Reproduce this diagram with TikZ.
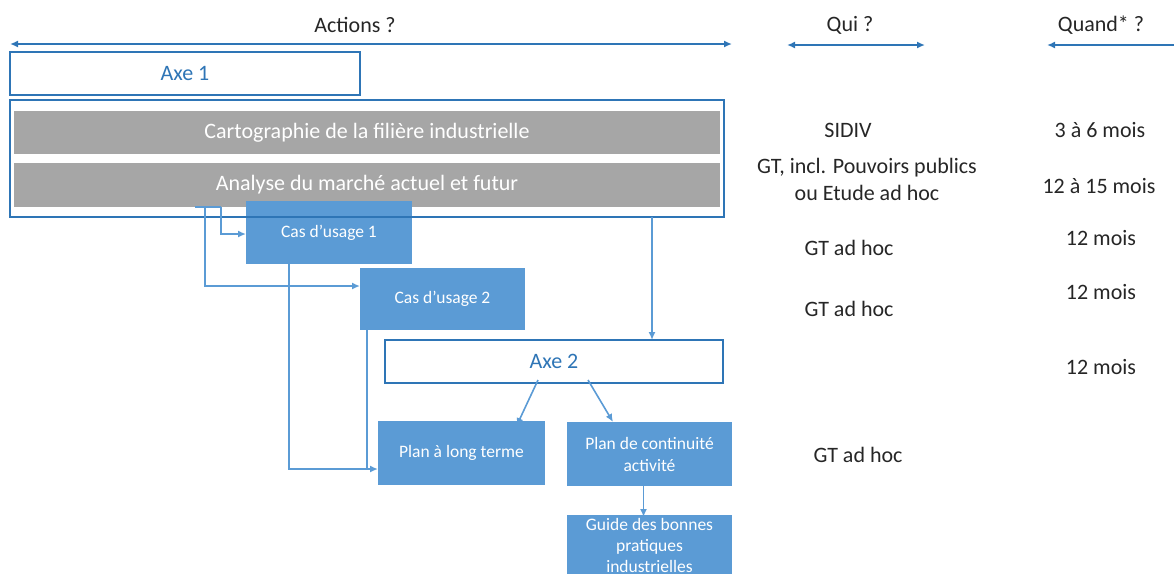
\documentclass[tikz,border=0pt]{standalone}
\usepackage{fontspec}
\setmainfont{Carlito}
\usetikzlibrary{arrows.meta,calc}
\definecolor{bfill}{HTML}{5B9BD5}
\definecolor{bline}{HTML}{2E75B6}
\definecolor{gbar}{HTML}{A6A6A6}
\definecolor{txt}{HTML}{262626}
\tikzset{
  x=1pt,y=-1pt,
  every node/.style={inner sep=0pt,outer sep=0pt},
  axebox/.style={draw=bline,line width=2pt,fill=white,text=bline,font=\fontsize{22}{26}\selectfont},
  outerbox/.style={draw=bline,line width=2.5pt},
  graybar/.style={fill=gbar,text=white,font=\fontsize{22}{26}\selectfont},
  bluebox/.style={fill=bfill,text=white,font=\fontsize{17.5}{22}\selectfont,align=center},
  lbl/.style={text=txt,font=\fontsize{22}{26}\selectfont,align=center},
  conn/.style={draw=bfill,line width=1.6pt},
  connarr/.style={conn,-{Latex[length=8pt,width=7pt]}},
  dbl/.style={draw=bline,line width=1.8pt,{Latex[length=8pt,width=7pt]}-{Latex[length=8pt,width=7pt]}}
}
\begin{document}
\begin{tikzpicture}
\useasboundingbox (0,0) rectangle (1174,573);
% headers
\node[lbl] (hact) at (355,25) {Actions ?};
\node[lbl] (hqui) at (850,25) {Qui ?};
\node[lbl] (hqua) at (1101,25) {Quand* ?};
\coordinate (aL) at (10,44); \coordinate (aR) at (732,44);
\coordinate (qL) at (787,45); \coordinate (qR) at (925,45);
\coordinate (dL) at (1047,45); \coordinate (dR) at (1190,45);
\draw[dbl] (aL) -- (aR);
\draw[dbl] (qL) -- (qR);
\draw[dbl] (dL) -- (dR);
% boxes
\node[axebox,minimum width=350pt,minimum height=43pt] (axe1) at (185,73.5) {Axe 1};
\node[graybar,minimum width=706pt,minimum height=43pt] (carto) at (367,132.5) {Cartographie de la filière industrielle};
\node[graybar,minimum width=706pt,minimum height=44pt] (analyse) at (367,185) {Analyse du marché actuel et futur};
\node[bluebox,minimum width=166pt,minimum height=63pt] (cas1) at (329,232.5) {Cas d’usage 1};
\node[outerbox,minimum width=714pt,minimum height=117pt] (outer) at (367,158.5) {};
\node[bluebox,minimum width=165pt,minimum height=62pt] (cas2) at (442.5,299) {Cas d’usage 2};
\node[axebox,minimum width=338pt,minimum height=43pt] (axe2) at (554,361.5) {Axe 2};
\node[bluebox,minimum width=167pt,minimum height=64pt] (plt) at (461.5,453) {Plan à long terme};
\node[bluebox,minimum width=165pt,minimum height=64pt] (pca) at (649.5,454) {Plan de continuité\\activité};
\node[bluebox,minimum width=165pt,minimum height=85pt,anchor=north] (guide) at (649.5,515) {};
\node[bluebox,anchor=north,font=\fontsize{17.5}{21}\selectfont] (guidetxt) at (649.5,518) {Guide des bonnes\\pratiques\\industrielles};
% connectors
\coordinate (c0) at (195,207);
\coordinate (c1) at (221,207);
\coordinate (c2) at (205,207);
\coordinate (c5) at (652,0);
\draw[conn] (c0) -- (c1);
\draw[connarr] (c1) |- ([yshift=-1.5pt]cas1.west);
\draw[connarr] (c2) |- ([yshift=13pt]cas2.west);
\draw[connarr] ([xshift=-40pt]cas1.south) |- ([yshift=-16pt]plt.west);
\draw[conn] ([xshift=-75.5pt]cas2.south) |- ([xshift=-10pt,yshift=-16pt]plt.west);
\draw[connarr] (outer.south -| c5) -- (axe2.north -| c5);
\draw[connarr] ([xshift=-16pt,yshift=3pt]axe2.south) -- ([xshift=55pt,yshift=-5pt]plt.north);
\draw[connarr] ([xshift=34pt,yshift=3pt]axe2.south) -- ([xshift=-36.5pt,yshift=0pt]pca.north);
\draw[connarr] ([xshift=-6pt,yshift=6pt]pca.south) -- ([xshift=-6pt,yshift=-2pt]guide.north);
% right column
\node[lbl] (q1) at (848,130) {SIDIV};
\node[lbl,font=\fontsize{22}{27}\selectfont] (q2) at (867,179.5) {GT, incl. Pouvoirs publics\\ou Etude ad hoc};
\node[lbl] (q3) at (849,248) {GT ad hoc};
\node[lbl] (q4) at (849,309) {GT ad hoc};
\node[lbl] (q5) at (858,455) {GT ad hoc};
\node[lbl] (d1) at (1100,130) {3 à 6 mois};
\node[lbl] (d2) at (1099,186) {12 à 15 mois};
\node[lbl] (d3) at (1101,238) {12 mois};
\node[lbl] (d4) at (1101,292) {12 mois};
\node[lbl] (d5) at (1101,367) {12 mois};
\end{tikzpicture}
\end{document}
